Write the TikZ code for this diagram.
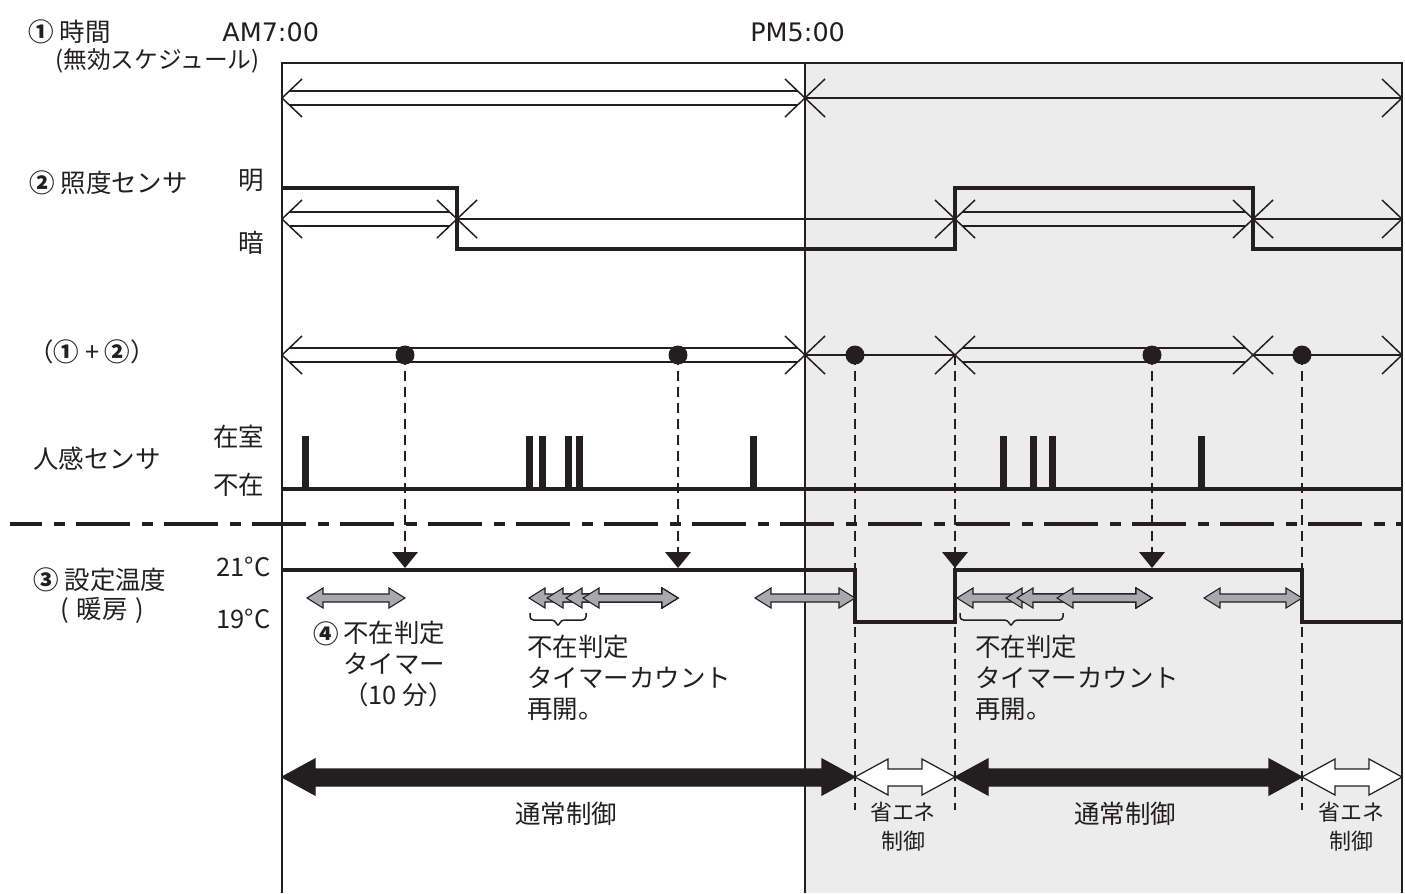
\documentclass[tikz,border=0pt]{standalone}
\usepackage{fontspec}
\setmainfont{Noto Sans CJK JP}
\newfontfamily\latinfont{DejaVu Sans}
\usetikzlibrary{calc}
\definecolor{tl-shade}{HTML}{ECECEC}
\definecolor{tl-gray}{HTML}{A7A9AC}
\definecolor{tl-ink}{HTML}{231F20}

\begin{document}
\begin{tikzpicture}[x=0.02cm, y=-0.02cm,
    txt/.style={anchor=west, inner sep=0pt, text=tl-ink, font=\fontsize{14.5}{17.5}\selectfont},
    latin/.style={anchor=west, inner sep=0pt, text=tl-ink, font=\latinfont\fontsize{14.5}{17.5}\selectfont},
    note/.style={anchor=north west, align=left, inner sep=0pt, text=tl-ink, font=\fontsize{14.5}{17.6}\selectfont},
    small/.style={align=center, inner sep=0pt, text=tl-ink, font=\fontsize{12.5}{16.5}\selectfont},
    rail/.style={draw=tl-ink, line width=0.85pt},
    stepline/.style={draw=tl-ink, line width=2.8pt},
    vdash/.style={draw=tl-ink, line width=0.85pt, dash pattern=on 0.2cm off 0.12cm},
    grayarr/.style={fill=tl-gray, draw=tl-ink, line width=0.6pt},
    fatarr/.style={draw=tl-ink, line width=0.7pt}]

    \useasboundingbox (0,0) rectangle (1405,893);

    % Frame and energy-saving zone
    \fill[tl-shade] (805,63) rectangle (1402,893);
    \draw[rail] (805,63) -- (805,893);
    \draw[draw=tl-ink, line width=1.4pt] (282,893) -- (282,63) -- (1402,63) -- (1402,893);

    % Row labels
    \node[txt] (lTime) at (28,32) {{\bfseries ①} 時間};
    \node[txt, font=\fontsize{13.5}{16}\selectfont] (lSched) at (55,61) {(無効スケジュール)};
    \node[latin] (lAM) at (222,32) {AM7:00};
    \node[latin] (lPM) at (750,32) {PM5:00};
    \node[txt] (lLight) at (29,183) {{\bfseries ②} 照度センサ};
    \node[txt] (lBright) at (238,180) {明};
    \node[txt] (lDark) at (238,243) {暗};
    \node[txt] (lComb) at (28,352) {（{\bfseries ①} + {\bfseries ②}）};
    \node[txt] (lIn) at (213,437) {在室};
    \node[txt] (lMotion) at (33,459) {人感センサ};
    \node[txt] (lOut) at (213,485) {不在};
    \node[txt] (lTemp) at (33,580) {{\bfseries ③} 設定温度};
    \node[txt] (lHeat) at (60,610) {(\hspace{0.3em}暖房\hspace{0.3em})};
    \node[txt] (lHigh) at (216,567) {21°C};
    \node[txt] (lLow) at (216,619) {19°C};

    % Dashed trigger lines
    \foreach \x in {405,678,1152} {
        \draw[vdash] (\x,355) -- (\x,552);
        \fill[tl-ink] (\x-13,552) -- (\x+13,552) -- (\x,568) -- cycle;
    }
    \foreach \x in {855,955,1302} {
        \draw[vdash] (\x,355) -- (\x,810);
    }
    \fill[tl-ink] (942,552) -- (968,552) -- (955,568) -- cycle;

    % Double-line spans
    \foreach \a/\b/\y in {282/805/98, 282/457/219, 955/1253/219, 282/805/355, 955/1253/355} {
        \draw[rail] (\a+20,\y-19) -- (\a,\y) -- (\a+20,\y+19);
        \draw[rail] (\b-20,\y-19) -- (\b,\y) -- (\b-20,\y+19);
        \draw[rail] (\a+7,\y-7) -- (\b-7,\y-7);
        \draw[rail] (\a+7,\y+7) -- (\b-7,\y+7);
    }
    % Single-line spans
    \foreach \a/\b/\y in {805/1402/98, 457/955/219, 1253/1402/219, 805/955/355, 1253/1402/355} {
        \draw[rail] (\a+20,\y-19) -- (\a,\y) -- (\a+20,\y+19);
        \draw[rail] (\b-20,\y-19) -- (\b,\y) -- (\b-20,\y+19);
        \draw[rail] (\a,\y) -- (\b,\y);
    }
    \foreach \x in {405,678,855,1152,1302} {
        \fill[tl-ink] (\x,355) circle (5.4pt);
    }

    % Light sensor
    \draw[stepline] (282,188) -- (457,188) -- (457,249) -- (955,249) -- (955,188)
        -- (1253,188) -- (1253,249) -- (1402,249);

    % Motion sensor
    \draw[draw=tl-ink, line width=2.2pt] (282,489) -- (1402,489);
    \foreach \p in {305,529,542,568,579,753,1003,1033,1052,1201} {
        \fill[tl-ink] (\p-3.5,489) rectangle (\p+3.5,436);
    }
    \draw[draw=tl-ink, line width=2.2pt, dash pattern=on 1.08cm off 0.24cm on 0.22cm off 0.22cm,
        dash phase=0.44cm] (10,524) -- (1402,524);

    % Set temperature
    \draw[stepline] (282,570) -- (855,570) -- (855,622) -- (955,622) -- (955,570)
        -- (1302,570) -- (1302,622) -- (1402,622);

    % Absence timers
    \foreach \a/\b in {307/405, 529/678, 547/678, 566/678, 583/678, 755/855,
                       957/1152, 1006/1152, 1017/1152, 1057/1152, 1204/1302} {
        \filldraw[grayarr] (\a,598) -- (\a+16,588) -- (\a+16,594) -- (\b-16,594) -- (\b-16,588)
            -- (\b,598) -- (\b-16,608) -- (\b-16,602) -- (\a+16,602) -- (\a+16,608) -- cycle;
    }
    \draw[rail, rounded corners=2pt] (530,613) -- (530,620) -- (555,620) -- (558,627)
        -- (561,620) -- (586,620) -- (586,613);
    \draw[rail, rounded corners=2pt] (960,613) -- (960,620) -- (1008,620) -- (1011,627)
        -- (1014,620) -- (1063,620) -- (1063,613);

    \node[txt] (lFour) at (313,634) {\bfseries ④};
    \node[note] (lTimer) at (343,621) {不在判定\\タイマー\\（10 分）};
    \node[note] (lResume) at (527,635) {不在判定\\タイマーカウント\\再開。};
    \node[note] (lResume2) at (975,635) {不在判定\\タイマーカウント\\再開。};

    % Control modes
    \foreach \a/\b/\c in {282/855/tl-ink, 855/955/white, 955/1302/tl-ink, 1302/1402/white} {
        \filldraw[fatarr, fill=\c] (\a,777) -- (\a+33,759) -- (\a+33,769) -- (\b-33,769) -- (\b-33,759)
            -- (\b,777) -- (\b-33,795) -- (\b-33,786) -- (\a+33,786) -- (\a+33,795) -- cycle;
    }
    \node[txt, anchor=center] (lNormal) at (566,814) {通常制御};
    \node[txt, anchor=center] (lNormal2) at (1125,814) {通常制御};
    \node[small] (lSave) at (903,827) {省エネ\\制御};
    \node[small] (lSave2) at (1351,827) {省エネ\\制御};
\end{tikzpicture}
\end{document}
